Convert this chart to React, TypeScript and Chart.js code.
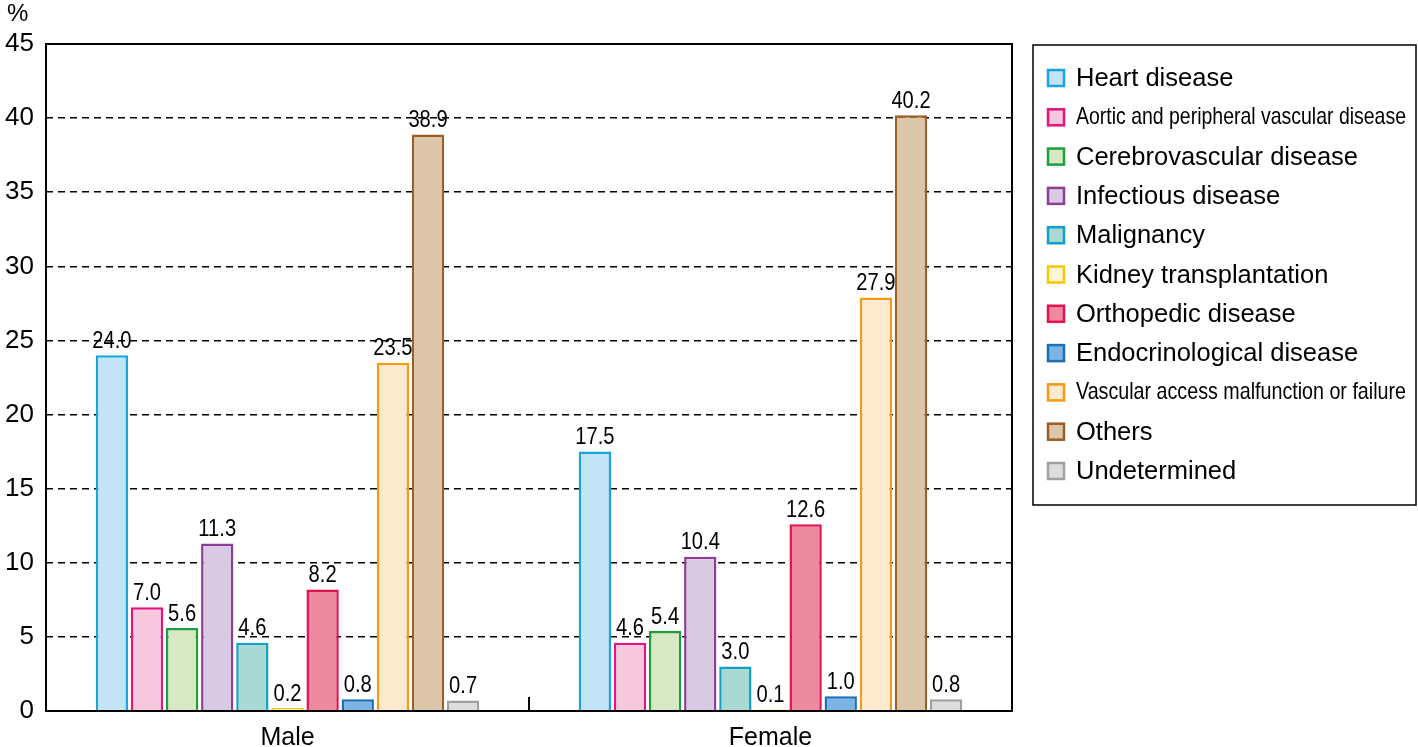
import React, { useEffect, useRef } from "react";
import { Chart, registerables } from "chart.js";

Chart.register(...registerables);

const categories = ["Male", "Female"];
const seriesNames = [
  "Heart disease",
  "Aortic and peripheral vascular disease",
  "Cerebrovascular disease",
  "Infectious disease",
  "Malignancy",
  "Kidney transplantation",
  "Orthopedic disease",
  "Endocrinological disease",
  "Vascular access malfunction or failure",
  "Others",
  "Undetermined",
];
const maleValues = [24.0, 7.0, 5.6, 11.3, 4.6, 0.2, 8.2, 0.8, 23.5, 38.9, 0.7];
const femaleValues = [17.5, 4.6, 5.4, 10.4, 3.0, 0.1, 12.6, 1.0, 27.9, 40.2, 0.8];
const yTicks = [0, 5, 10, 15, 20, 25, 30, 35, 40, 45];
const condensedNames = [
  "Aortic and peripheral vascular disease",
  "Vascular access malfunction or failure",
];

const borderColors = [
  "#1aa5e0",
  "#e8137a",
  "#1e9e3c",
  "#8e3c94",
  "#12a0c8",
  "#f5c800",
  "#e0134e",
  "#1a6fb5",
  "#f59a12",
  "#9a5f28",
  "#a0a0a0",
];
const fillColors = [
  "#c2e4f6",
  "#f6c8de",
  "#d6e9c2",
  "#d8cae2",
  "#a8d9d3",
  "#fff7d4",
  "#ee8aa0",
  "#7cb5e5",
  "#feeacf",
  "#dcc5a8",
  "#dddddd",
];

const FONT = "'Liberation Sans', Arial, sans-serif";

const decorPlugin = {
  id: "decor",
  afterDatasetsDraw(chart: any) {
    const ctx = chart.ctx as CanvasRenderingContext2D;
    const { left, right, top, bottom } = chart.chartArea;
    ctx.save();
    // value labels
    ctx.fillStyle = "#000";
    ctx.font = `24px ${FONT}`;
    ctx.textAlign = "center";
    ctx.textBaseline = "bottom";
    chart.data.datasets.forEach((ds: any, i: number) => {
      const meta = chart.getDatasetMeta(i);
      meta.data.forEach((bar: any, j: number) => {
        const v = ds.data[j];
        ctx.save();
        ctx.translate(bar.x, bar.y - 2);
        ctx.scale(0.84, 1);
        ctx.fillText(v.toFixed(1), 0, 0);
        ctx.restore();
      });
    });
    // frame
    ctx.strokeStyle = "#000";
    ctx.lineWidth = 2;
    ctx.strokeRect(left, top, right - left, bottom - top);
    // middle tick
    const xs = chart.scales.x;
    const mid = (xs.getPixelForValue(0) + xs.getPixelForValue(1)) / 2;
    ctx.beginPath();
    ctx.moveTo(mid, bottom);
    ctx.lineTo(mid, bottom - 14);
    ctx.stroke();
    // percent sign
    ctx.font = `24px ${FONT}`;
    ctx.textAlign = "left";
    ctx.textBaseline = "middle";
    ctx.fillText("%", 7, 14);
    // legend
    const lx = 1033,
      ly = 45,
      lw = 383,
      lh = 460;
    ctx.lineWidth = 1.5;
    ctx.strokeStyle = "#000";
    ctx.strokeRect(lx, ly, lw, lh);
    seriesNames.forEach((name, i) => {
      const cy = 78 + i * 39.3;
      ctx.fillStyle = fillColors[i];
      ctx.fillRect(1047, cy - 9, 18, 18);
      ctx.strokeStyle = borderColors[i];
      ctx.lineWidth = 2.5;
      ctx.strokeRect(1048, cy - 8, 16, 16);
      ctx.fillStyle = "#000";
      ctx.font = `25.5px ${FONT}`;
      ctx.textAlign = "left";
      ctx.textBaseline = "middle";
      if (condensedNames.includes(name)) {
        ctx.font = `24px ${FONT}`;
        const w = ctx.measureText(name).width;
        const target = 330;
        ctx.save();
        ctx.translate(1076, cy);
        ctx.scale(target / w, 1);
        ctx.fillText(name, 0, 0);
        ctx.restore();
      } else {
        ctx.fillText(name, 1076, cy + 1);
      }
    });
    ctx.restore();
  },
};

export default function App() {
  const ref = useRef<HTMLCanvasElement>(null);
  useEffect(() => {
    if (!ref.current) return;
    const datasets = seriesNames.map((name, i) => ({
      label: name,
      data: [maleValues[i], femaleValues[i]],
      backgroundColor: fillColors[i],
      borderColor: borderColors[i],
      borderWidth: 2.5,
      borderSkipped: "bottom" as const,
      categoryPercentage: 0.8,
      barPercentage: 0.92,
    }));
    const chart = new Chart(ref.current, {
      type: "bar",
      data: { labels: categories, datasets },
      options: {
        responsive: false,
        animation: false,
        layout: { padding: { top: 44, right: 406, left: 0, bottom: 0 } },
        plugins: { legend: { display: false }, tooltip: { enabled: false } },
        scales: {
          x: {
            grid: { display: false, drawTicks: false },
            border: { display: false },
            ticks: {
              color: "#000",
              font: { family: FONT, size: 25 },
              padding: 12,
            },
            afterFit(scale: any) {
              scale.height = 36;
            },
          },
          y: {
            min: 0,
            max: 45,
            afterBuildTicks(scale: any) {
              scale.ticks = yTicks.map((v) => ({ value: v }));
            },
            grid: { color: "#000", lineWidth: 1.5, drawTicks: false },
            border: { display: false, dash: [7, 5] },
            ticks: {
              color: "#000",
              font: { family: FONT, size: 26 },
              padding: 12,
            },
            afterFit(scale: any) {
              scale.width = 46;
            },
          },
        },
      },
      plugins: [decorPlugin],
    });
    return () => chart.destroy();
  }, []);
  return (
    <div style={{ position: "fixed", left: 0, top: 0, width: 1418, height: 747, background: "#fff" }}>
      <canvas ref={ref} width={1418} height={747} />
    </div>
  );
}
